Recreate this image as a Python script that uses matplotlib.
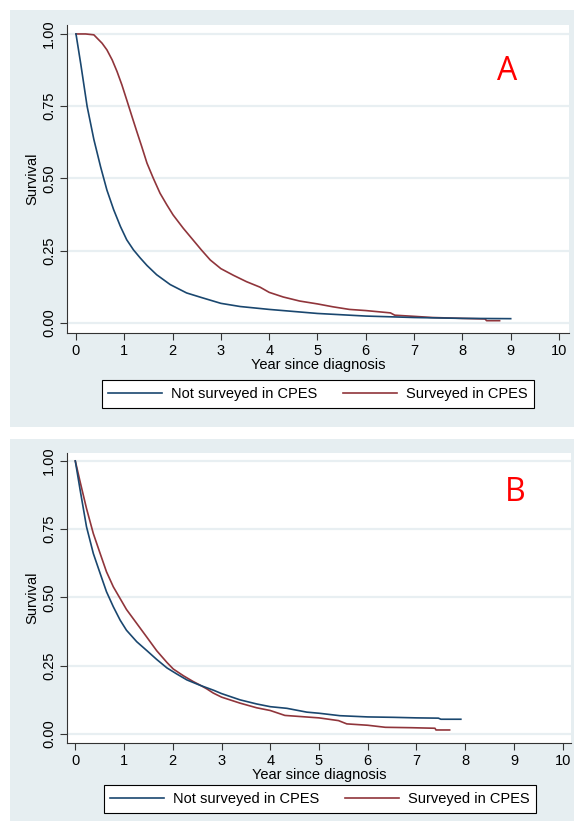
import matplotlib
matplotlib.use("Agg")
from matplotlib import pyplot as plt
from matplotlib.patches import Rectangle

plt.rcParams['font.family'] = ['Liberation Sans', 'DejaVu Sans']

# Panel A - Kaplan-Meier
a_not_t = [0, 0.1, 0.23, 0.37, 0.51, 0.64, 0.78, 0.92, 1.05, 1.19, 1.33, 1.47, 1.67, 1.95,
           2.29, 2.6, 3.0, 3.4, 4.0, 5.0, 6.0, 7.0, 8.0, 9.0]
a_not_s = [1, 0.895, 0.75, 0.635, 0.54, 0.46, 0.392, 0.334, 0.288, 0.253, 0.225, 0.199, 0.167, 0.133,
           0.104, 0.088, 0.068, 0.057, 0.047, 0.033, 0.024, 0.019, 0.016, 0.015]
a_sur_t = [0, 0.2, 0.37, 0.44, 0.54, 0.64, 0.75, 0.85, 0.95, 1.05, 1.16, 1.26, 1.36, 1.47, 1.60,
           1.74, 1.88, 2.01, 2.22, 2.42, 2.6, 2.78, 3.0, 3.26, 3.53, 3.81, 4.0, 4.29, 4.63, 5.0,
           5.32, 5.66, 6.0, 6.51, 6.6, 7.0, 7.38, 8.0, 8.47, 8.5, 8.77]
a_sur_s = [1, 1, 0.997, 0.985, 0.968, 0.945, 0.91, 0.87, 0.824, 0.772, 0.714, 0.662, 0.611, 0.553, 0.501,
           0.449, 0.409, 0.374, 0.328, 0.288, 0.252, 0.218, 0.188, 0.165, 0.143, 0.124, 0.106, 0.090, 0.076, 0.066,
           0.056, 0.047, 0.043, 0.035, 0.027, 0.023, 0.019, 0.016, 0.014, 0.008, 0.008]

# Panel B
b_not_t = [0, 0.1, 0.23, 0.37, 0.51, 0.64, 0.78, 0.92, 1.05, 1.26, 1.47, 1.67, 1.88, 2.08, 2.29,
           2.55, 2.84, 3.0, 3.38, 3.72, 4.0, 4.34, 4.75, 5.0, 5.43, 6.0, 6.53, 7.0, 7.45, 7.5, 7.91]
b_not_s = [1, 0.893, 0.759, 0.661, 0.588, 0.521, 0.466, 0.417, 0.380, 0.338, 0.305, 0.273, 0.242, 0.220, 0.198,
           0.179, 0.160, 0.148, 0.125, 0.110, 0.100, 0.094, 0.080, 0.076, 0.067, 0.0625, 0.061, 0.059, 0.058, 0.054, 0.054]
b_sur_t = [0, 0.1, 0.23, 0.37, 0.51, 0.64, 0.78, 0.92, 1.05, 1.26, 1.47, 1.67, 1.88, 2.01, 2.22,
           2.42, 2.55, 2.7, 2.83, 3.0, 3.38, 3.72, 4.0, 4.3, 4.61, 5.0, 5.40, 5.57, 6.0, 6.36,
           6.9, 7.38, 7.4, 7.68]
b_sur_s = [1, 0.923, 0.826, 0.734, 0.661, 0.594, 0.539, 0.496, 0.456, 0.405, 0.354, 0.305, 0.262, 0.238, 0.213,
           0.192, 0.180, 0.165, 0.150, 0.135, 0.113, 0.096, 0.086, 0.068, 0.064, 0.059, 0.049, 0.037, 0.032, 0.0245,
           0.023, 0.021, 0.0147, 0.0147]

labels = ["Not surveyed in CPES", "Surveyed in CPES"]
x_ticks = list(range(0, 11))
y_ticks = [0, 0.25, 0.5, 0.75, 1.0]

NAVY = "#1a476f"
MAROON = "#90353b"
BG = "#e6eef1"
GRID = "#e8eff2"

W, H = 574, 823
fig = plt.figure(figsize=(W / 100, H / 100), dpi=100)
fig.patch.set_facecolor("white")

# panel backgrounds (pixel boxes -> figure fraction), behind the axes
for top, bottom in [(10, 427), (439, 821)]:
    fig.patches.append(Rectangle((10 / W, 1 - bottom / H), 564 / W, (bottom - top) / H,
                                 transform=fig.transFigure, facecolor=BG, edgecolor="none", zorder=-5))


def panel(rect, xlim, ylim, not_t, not_s, sur_t, sur_s, legend_xy, letter, letter_xy):
    ax = fig.add_axes(rect)
    ax.set_facecolor("white")
    for y in y_ticks:
        ax.axhline(y, color=GRID, lw=1.6, zorder=1)
    l1, = ax.plot(not_t, not_s, color=NAVY, lw=1.2, zorder=3)
    l2, = ax.plot(sur_t, sur_s, color=MAROON, lw=1.2, zorder=2)
    ax.set_xlim(*xlim)
    ax.set_ylim(*ylim)
    ax.set_xticks(x_ticks)
    ax.set_yticks(y_ticks)
    ax.set_yticklabels(["%.2f" % v for v in y_ticks], rotation=90, va="center")
    ax.tick_params(axis="both", direction="out", length=5, width=0.8, colors="#333333",
                   labelcolor="black", labelsize=10.5, pad=3)
    for s in ["top", "right"]:
        ax.spines[s].set_visible(False)
    for s in ["left", "bottom"]:
        ax.spines[s].set_color("#333333")
        ax.spines[s].set_linewidth(0.8)
    ax.set_xlabel("Year since diagnosis", fontsize=10.5, labelpad=0)
    ax.set_ylabel("Survival", fontsize=10.5, labelpad=2)
    leg = ax.legend([l1, l2], labels, loc="center", bbox_to_anchor=legend_xy,
                    bbox_transform=fig.transFigure, ncol=2, frameon=True, fancybox=False,
                    edgecolor="black", framealpha=1, fontsize=10.5, handlelength=3.7,
                    handletextpad=0.6, columnspacing=1.8, borderpad=0.45)
    leg.get_frame().set_linewidth(0.8)
    fig.text(letter_xy[0], letter_xy[1], letter, color="red", fontsize=23,
             family=["Open Sans", "DejaVu Sans"], ha="center", va="center", zorder=10)
    return ax


panel([67 / W, 1 - 333 / H, 502 / W, 308 / H], (-0.186, 10.207), (-0.0346, 1.031),
      a_not_t, a_not_s, a_sur_t, a_sur_s, (318 / W, 1 - 394 / H), "A", (507 / W, 1 - 72 / H))
panel([67 / W, 1 - 743 / H, 504 / W, 290 / H], (-0.170, 10.17), (-0.033, 1.029),
      b_not_t, b_not_s, b_sur_t, b_sur_s, (320 / W, 1 - 799 / H), "B", (515 / W, 1 - 493 / H))

fig.savefig("out.png", dpi=100, facecolor=fig.get_facecolor())
